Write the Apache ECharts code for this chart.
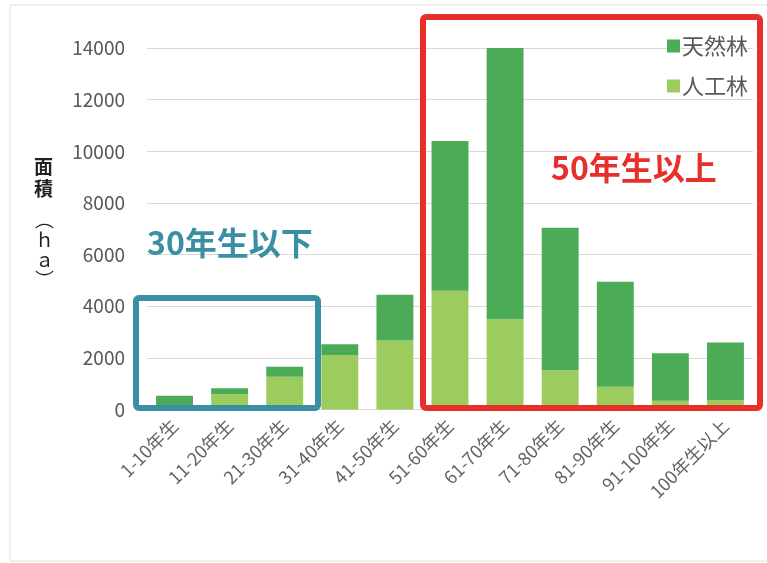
<!DOCTYPE html>
<html>
<head>
<meta charset="utf-8">
<script src="https://cdn.jsdelivr.net/npm/echarts@6/dist/echarts.min.js"></script>
<style>
html,body{margin:0;padding:0;background:#fff;}
#c{width:767px;height:563px;}
</style>
</head>
<body>
<div id="c"></div>
<script>
const categories = ['1-10年生','11-20年生','21-30年生','31-40年生','41-50年生','51-60年生','61-70年生','71-80年生','81-90年生','91-100年生','100年生以上'];
const plantedForest = [80, 590, 1270, 2110, 2670, 4600, 3500, 1520, 880, 340, 370];
const naturalForest = [450, 230, 390, 415, 1770, 5800, 10500, 5520, 4070, 1840, 2220];
const yTicks = [0, 2000, 4000, 6000, 8000, 10000, 12000, 14000];

const FONT = '"Noto Sans CJK JP", "Noto Sans", sans-serif';
const chart = echarts.init(document.getElementById('c'), null, {renderer:'canvas'});
chart.setOption({
  backgroundColor:'#fff',
  animation:false,
  textStyle:{fontFamily:FONT},
  grid:{left:147, right:14, top:48, bottom:153.5, containLabel:false},
  legend:{
    orient:'vertical', right:14, top:30,
    itemWidth:13, itemHeight:13, itemGap:18,
    icon:'rect',
    data:['天然林','人工林'],
    textStyle:{fontSize:22, color:'#595959', fontFamily:FONT, padding:[0,0,0,-3]}
  },
  xAxis:{
    type:'category', data:categories,
    axisLine:{show:true, lineStyle:{color:'#d9d9d9'}},
    axisTick:{show:false},
    axisLabel:{rotate:45, interval:0, fontSize:18, color:'#636363', margin:13, fontFamily:FONT}
  },
  yAxis:{
    type:'value', min:yTicks[0], max:yTicks[yTicks.length-1], interval:2000,
    axisLine:{show:false}, axisTick:{show:false},
    splitLine:{lineStyle:{color:'#d9d9d9'}},
    axisLabel:{fontSize:19, color:'#595959', margin:22, fontFamily:FONT, formatter:function(v){return String(v);}}
  },
  series:[
    {name:'人工林', type:'bar', stack:'a', data:plantedForest, barCategoryGap:'33%', itemStyle:{color:'#9ccc5e'}},
    {name:'天然林', type:'bar', stack:'a', data:naturalForest, itemStyle:{color:'#4cab57'}}
  ],
  graphic:[
    {type:'rect', shape:{x:10, y:5, width:770, height:556}, style:{fill:'none', stroke:'#e0e0e0', lineWidth:1}, z:-1},
    {type:'rect', shape:{x:136, y:298, width:182, height:110, r:3}, style:{fill:'none', stroke:'#3a8fa5', lineWidth:6}, z:10},
    {type:'rect', shape:{x:423, y:17, width:337, height:391, r:3}, style:{fill:'none', stroke:'#e8302a', lineWidth:6}, z:10},
    {type:'text', left:147, top:227, style:{text:'30年生以下', fill:'#3a8fa5', font:'bold 32px "Noto Sans CJK JP", sans-serif'}, z:11},
    {type:'text', left:551, top:152, style:{text:'50年生以上', fill:'#e8302a', font:'bold 32px "Noto Sans CJK JP", sans-serif'}, z:11},
    {type:'text', left:34, top:156, style:{text:'面\n積', fill:'#222', font:'bold 19px "Noto Sans CJK JP", sans-serif', lineHeight:22}, z:11},
    {type:'text', left:35, top:210, style:{text:'︵\nｈ\nａ\n︶', fill:'#222', font:'19px "Noto Sans CJK JP", sans-serif', lineHeight:20}, z:11}
  ]
});
</script>
</body>
</html>
